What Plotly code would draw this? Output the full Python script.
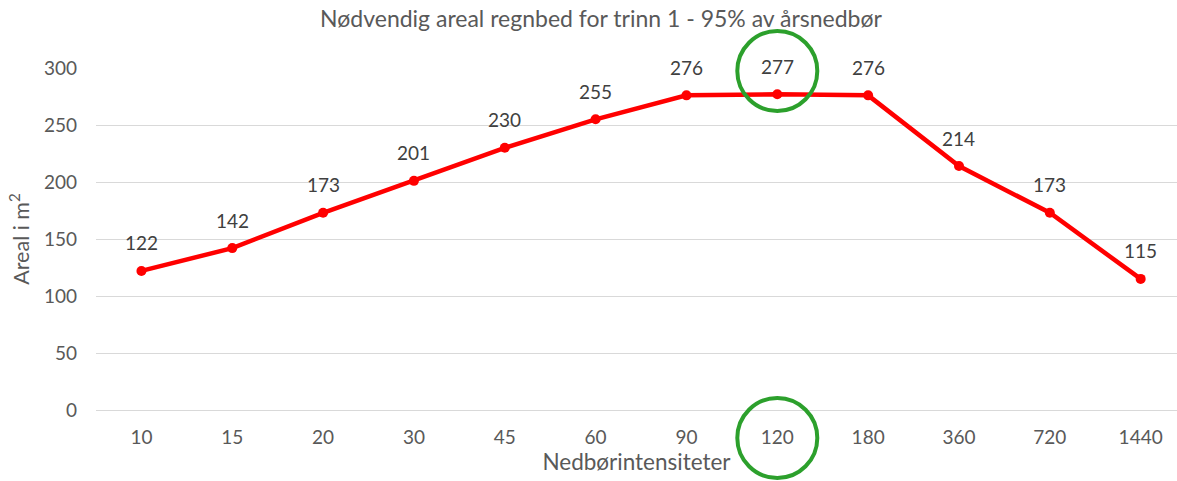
import plotly.graph_objects as go

# Rain intensity categories (duration in minutes) and required rain-bed area
kategorier = ["10", "15", "20", "30", "45", "60", "90", "120", "180", "360", "720", "1440"]
areal = [122, 142, 173, 201, 230, 255, 276, 277, 276, 214, 173, 115]
y_ticks = [0, 50, 100, 150, 200, 250, 300]

uthevet = "120"  # category highlighted with circles

tekst_farge = "#595959"
etikett_farge = "#404040"
font_navn = "Lato, 'Open Sans', 'DejaVu Sans', sans-serif"

fig = go.Figure()
fig.add_trace(go.Scatter(
    x=kategorier,
    y=areal,
    mode="lines+markers",
    line=dict(color="#ff0000", width=4.5),
    marker=dict(color="#ff0000", size=10),
    cliponaxis=False,
    hoverinfo="skip",
))

# Data labels above each point (category axis positions are addressed by index)
for i, v in enumerate(areal):
    fig.add_annotation(
        x=i, y=v, xref="x", yref="y",
        text=str(v), showarrow=False,
        yanchor="middle", yshift=28,
        font=dict(size=19, color=etikett_farge, family=font_navn),
    )

idx = kategorier.index(uthevet)
sirkel = dict(
    type="circle",
    xref="x", yref="paper",
    xsizemode="pixel", ysizemode="pixel",
    xanchor=idx,
    line=dict(color="#2ca02c", width=4),
    layer="above",
)
# Circle around the highlighted data label (top of the plot area)
fig.add_shape(**sirkel, yanchor=1, x0=-40, x1=40, y0=-43, y1=37)
# Circle around the highlighted tick label
fig.add_shape(**sirkel, yanchor=0, x0=-40, x1=40, y0=-68, y1=12)

fig.update_layout(
    width=1177, height=481,
    margin=dict(l=96, r=0, t=68, b=71),
    paper_bgcolor="white",
    plot_bgcolor="white",
    showlegend=False,
    font=dict(family=font_navn, color=tekst_farge, size=19),
    title=dict(
        text="Nødvendig areal regnbed for trinn 1 - 95% av årsnedbør",
        x=601 / 1177, xanchor="center", xref="container",
        y=1 - 19 / 481, yanchor="middle", yref="container",
        font=dict(size=23, color=tekst_farge, family=font_navn),
    ),
    xaxis=dict(
        type="category",
        range=[-0.5, 11.4],
        showgrid=False,
        showline=False,
        zeroline=False,
        ticks="",
        ticklabelstandoff=14,
        tickfont=dict(size=19, color=tekst_farge),
        title=dict(text="Nedbørintensiteter", font=dict(size=22.5, color=tekst_farge), standoff=4),
    ),
    yaxis=dict(
        range=[0, 300],
        tickvals=y_ticks,
        showgrid=True,
        gridcolor="#d9d9d9",
        gridwidth=1,
        zeroline=True,
        zerolinecolor="#d9d9d9",
        zerolinewidth=1,
        showline=False,
        ticks="",
        ticklabelstandoff=18,
        tickfont=dict(size=19, color=tekst_farge),
        title=dict(text="Areal i m<sup>2</sup>", font=dict(size=21.5, color=tekst_farge), standoff=8),
    ),
)

fig.write_html("out.html")
